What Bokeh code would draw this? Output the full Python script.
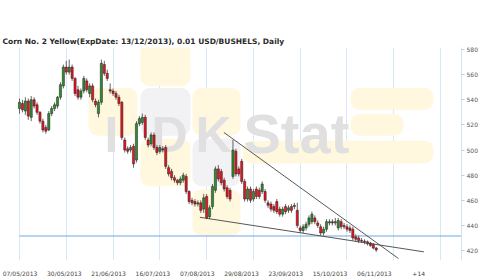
from bokeh.plotting import figure
from bokeh.models import FixedTicker, Label, BoxAnnotation, Range1d, ColumnDataSource
from bokeh.embed import file_html
from bokeh.resources import INLINE

# ---------------- data ----------------
title_text = "Corn  No. 2 Yellow(ExpDate: 13/12/2013), 0.01 USD/BUSHELS, Daily"
tick_labels = ["07/05/2013", "30/05/2013", "21/06/2013", "16/07/2013", "07/08/2013",
               "29/08/2013", "23/09/2013", "15/10/2013", "06/11/2013", "+14"]
grid_pos = [0, 16, 32, 48, 64, 80, 96, 112, 128, 144]
y_ticks = [420, 440, 460, 480, 500, 520, 540, 560, 580]
last_price = 431.61

open_ = [533, 537, 531, 539, 526, 540, 536, 530, 523, 518, 516, 529, 533, 535, 542, 551, 566, 562, 566, 557,
         548, 542, 547, 555, 545, 551, 539, 529, 538, 568, 561, 548, 547, 545, 542, 538, 508, 501, 500, 503,
         492, 521, 522, 526, 508, 505, 512, 502, 499, 501, 502, 486, 483, 478, 476, 474, 476, 479, 467, 460,
         459, 457, 458, 453, 463, 447, 455, 468, 485, 483, 476, 470, 468, 479, 499, 485, 491, 475, 461, 469,
         461, 469, 468, 467, 467, 458, 457, 455, 459, 453, 449, 455, 452, 455, 455, 452, 438, 436, 438, 441,
         443, 446, 442, 439, 434, 437, 442, 443, 442, 438, 443, 440, 439, 438, 437, 431, 430, 428, 427.5, 427,
         426, 425, 422]
high = [541, 540, 542, 541, 543, 542, 538, 531, 525, 520, 531, 535, 538, 543, 554, 568, 571, 572, 568, 558,
        551, 549, 559, 557, 553, 553, 541, 540, 572, 571, 564, 553, 549, 547, 544, 539, 510, 503, 504, 505,
        523, 527, 529, 528, 510, 514, 514, 504, 504, 503, 504, 488, 485, 480, 477, 479, 482, 481, 468, 462,
        461, 460, 460, 465, 465, 456, 473, 487, 488, 485, 478, 472, 470, 508, 501, 487, 493, 477, 471, 471,
        469, 471, 470, 475, 469, 460, 459, 457, 461, 455, 455, 457, 456, 457, 458, 458, 440, 441, 443, 448,
        451, 448, 444, 441, 439, 445, 445, 445, 446, 446, 445, 442, 441, 440, 439, 433, 432, 430, 429, 428,
        427, 426, 423]
low = [529, 530, 528, 524, 523, 533, 528, 521, 514, 513, 515, 527, 531, 533, 540, 549, 560, 560, 555, 543,
       540, 540, 545, 546, 542, 538, 534, 526, 536, 559, 555, 545, 543, 540, 535, 508, 498, 497, 498, 486,
       490, 519, 520, 508, 502, 503, 500, 496, 497, 498, 485, 479, 476, 474, 472, 472, 474, 465, 457, 456,
       455, 455, 450, 450, 445, 445, 453, 466, 475, 472, 467, 461, 459, 477, 479, 479, 473, 459, 459, 458,
       459, 461, 461, 465, 458, 454, 451, 450, 449, 447, 447, 449, 450, 450, 453, 438, 434, 434, 436, 439,
       441, 441, 438, 432, 432, 435, 440, 440, 440, 436, 437, 437, 435, 434, 428, 427, 426, 426, 425, 424,
       423, 421, 419]
close = [538, 532, 539, 527, 540, 535, 530, 523, 516, 515, 529, 533, 536, 542, 552, 566, 562, 566, 557, 545,
         542, 547, 557, 548, 551, 540, 536, 538, 569, 561, 557, 547, 545, 542, 537, 510, 500, 499, 502, 489,
         521, 525, 526, 510, 504, 512, 502, 498, 502, 500, 487, 481, 478, 476, 474, 477, 480, 467, 459, 458,
         457, 458, 452, 462, 446, 454, 471, 485, 477, 474, 469, 463, 461, 500, 481, 481, 475, 461, 469, 460,
         467, 463, 463, 473, 460, 456, 453, 452, 451, 449, 453, 451, 454, 452, 456, 440, 436, 439, 441, 446,
         449, 443, 440, 434, 437, 443, 443, 442, 443, 444, 439, 439, 437, 436, 430, 429, 428, 427.5, 427, 425.5,
         424, 422, 420.5]

upper_trend_x = [69.9, 129.6]
upper_trend_y = [514.0, 413.7]
lower_trend_x = [61.7, 138.3]
lower_trend_y = [446.5, 419.0]

# ---------------- layout ----------------
W, H = 500, 279
frame_left, frame_right, frame_top, frame_bottom = 0, 461, 47, 262
bar_px = 2.924
x0, x1 = -6.5, -6.5 + 461 / bar_px
y1 = 580 + (49 - frame_top) / 1.26875
y0 = y1 - (frame_bottom - frame_top) / 1.26875

def px_x(px):
    return x0 + (px - frame_left) * (x1 - x0) / (frame_right - frame_left)

def px_y(py):
    return y1 - (py - frame_top) * (y1 - y0) / (frame_bottom - frame_top)

# date labels sit on their own spacing (not on the grid lines)
tick_pos = [round(px_x(19.5 + 44.3 * k), 3) for k in range(len(tick_labels))]

p = figure(width=W, height=H, output_backend="svg", toolbar_location=None,
           x_range=Range1d(x0, x1), y_range=Range1d(y0, y1),
           y_axis_location="right",
           min_border_left=0, min_border_right=W - frame_right,
           min_border_top=frame_top, min_border_bottom=H - frame_bottom)
p.outline_line_color = None
p.background_fill_color = "white"
p.border_fill_color = "white"

p.title.text = title_text
p.title.align = "left"
p.title.offset = 2
p.title.standoff = 4
p.title.text_font = "DejaVu Sans"
p.title.text_font_size = "7.5px"
p.title.text_font_style = "bold"
p.title.text_color = "#2A2A2A"

# grid
p.ygrid.visible = False
p.xgrid.ticker = FixedTicker(ticks=grid_pos)
p.xgrid.grid_line_color = "#D9E8F5"
p.xgrid.grid_line_width = 1

# axes
p.xaxis.ticker = FixedTicker(ticks=tick_pos)
p.xaxis.major_label_overrides = {t: l for t, l in zip(tick_pos, tick_labels)}
p.xaxis.axis_line_color = None
p.xaxis.major_tick_line_color = None
p.xaxis.minor_tick_line_color = None
p.xaxis.major_label_standoff = 3
p.xaxis.major_label_text_font = "DejaVu Sans"
p.xaxis.major_label_text_font_size = "6px"
p.xaxis.major_label_text_color = "#444444"

p.yaxis.ticker = FixedTicker(ticks=y_ticks)
p.yaxis.axis_line_color = "#D5E3F0"
p.yaxis.major_tick_line_color = "#BFCFDF"
p.yaxis.major_tick_out = 3
p.yaxis.major_tick_in = 0
p.yaxis.minor_tick_line_color = None
p.yaxis.major_label_standoff = 2
p.yaxis.major_label_text_font = "DejaVu Sans"
p.yaxis.major_label_text_font_size = "6px"
p.yaxis.major_label_text_color = "#555555"

# watermark (logo)
yellow = "#FFF8DE"
greyt = "#F2F2F4"
tiles = [
    (140, 190, 42, 86, yellow),
    (88, 137, 88, 136, yellow),
    (140, 190, 88, 136, greyt),
    (192, 240, 88, 136, yellow),
    (140, 190, 139, 187, yellow),
    (192, 240, 139, 187, greyt),
    (192, 240, 190, 237, yellow),
    (350, 433, 88, 110, yellow),
    (350, 403, 114, 136, yellow),
    (242, 433, 141, 164, yellow),
]
for l, r, t, b, c in tiles:
    p.add_layout(BoxAnnotation(left=px_x(l), right=px_x(r), top=px_y(t), bottom=px_y(b),
                               fill_color=c, fill_alpha=1.0, line_color=None,
                               border_radius=9, level="underlay"))
for txt, px, py, fs in [("I", 104, 135, "50px"), ("D", 151, 135, "50px"),
                        ("K", 195, 135, "50px"), ("Stat", 243, 134, "56px")]:
    p.add_layout(Label(x=px_x(px), y=px_y(py), text=txt, text_font="Liberation Sans",
                       text_font_style="bold", text_font_size=fs, text_color="#E0E0E0",
                       text_baseline="alphabetic", level="underlay"))

# last price line
p.segment(x0=[0], y0=[last_price], x1=[x1], y1=[last_price], line_color="#6FA8E4", line_width=1.2)

# candles
idx = list(range(len(close)))
colors = ["#2E8B2E" if c >= o else "#E8141E" for o, c in zip(open_, close)]
src = ColumnDataSource(dict(x=idx, o=open_, h=high, l=low, c=close,
                            top=[max(o, c) for o, c in zip(open_, close)],
                            bot=[min(o, c) for o, c in zip(open_, close)],
                            col=colors))
p.segment(x0="x", y0="l", x1="x", y1="h", source=src, line_color="#555555", line_width=0.9)
p.vbar(x="x", top="top", bottom="bot", width=0.75, source=src, fill_color="col",
       line_color="#222222", line_width=0.5)

# trend lines
p.line(upper_trend_x, upper_trend_y, line_color="#444444", line_width=0.9)
p.line(lower_trend_x, lower_trend_y, line_color="#444444", line_width=0.9)

# last price tag
p.add_layout(Label(x=x1, y=last_price, text="431.61", text_font="DejaVu Sans",
                   text_font_size="7px", text_color="white", text_baseline="middle",
                   text_align="left", background_fill_color="#2F7FD2",
                   padding=2, x_offset=1))

open("out.html", "w").write(file_html(p, INLINE))
